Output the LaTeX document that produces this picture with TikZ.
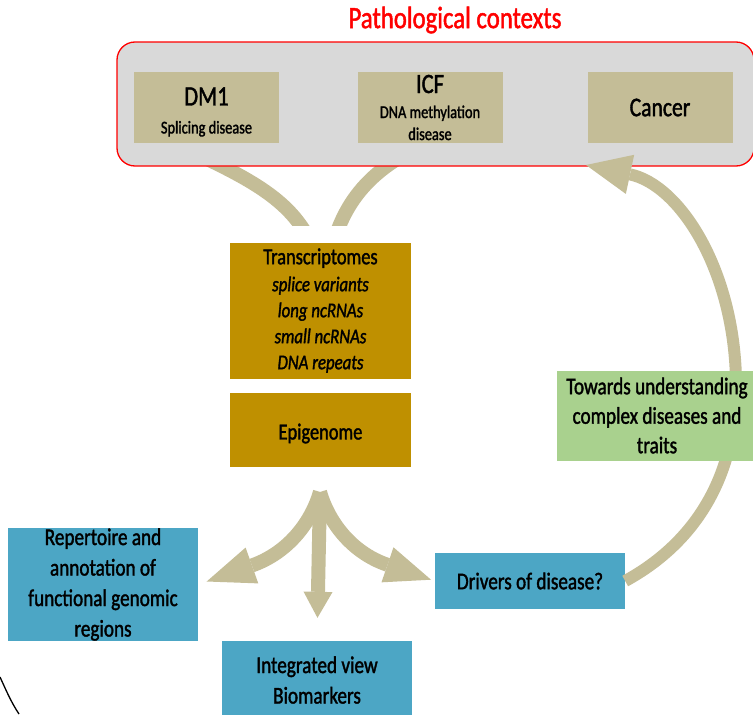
\documentclass[tikz,border=0pt]{standalone}
\usepackage{fontspec}
\setmainfont{Carlito}[FakeStretch=0.8,FakeBold=1.5]
\usetikzlibrary{arrows.meta}
\definecolor{tanc}{RGB}{196,189,151}
\definecolor{goldc}{RGB}{191,144,0}
\definecolor{bluec}{RGB}{76,166,197}
\definecolor{greenc}{RGB}{169,209,142}
\definecolor{grayc}{RGB}{217,217,217}
\definecolor{redc}{RGB}{255,0,0}
\begin{document}
\begin{tikzpicture}[x=1pt,y=-1pt,
  tanbox/.style={fill=tanc, minimum width=145pt, minimum height=71pt, inner sep=0pt, align=center},
  goldbox/.style={fill=goldc, minimum width=181pt, inner sep=0pt, align=center},
  bluebox/.style={fill=bluec, inner sep=0pt, align=center, font=\fontsize{24}{30.5}\selectfont},
  greenbox/.style={fill=greenc, inner sep=0pt, align=center, font=\fontsize{24}{29.5}\selectfont},
  pipe/.style={draw=tanc, line width=14pt, line cap=butt},
  bigpipe/.style={draw=tanc, line width=12pt, line cap=butt}
]
\path[use as bounding box] (0,0) rectangle (753,715);
\clip (0,0) rectangle (753,715);
\fill[white] (0,0) rectangle (753,715);

% arches from transcriptomes up to DM1 / ICF (drawn under the context box)
\coordinate (a1s) at (310,241);
\coordinate (a1e) at (205,158);
\coordinate (a2s) at (334,241);
\coordinate (a2e) at (402,156);
\begin{scope}
  \clip (100,100) rectangle (500,225);
  \draw[pipe] (a1s) .. controls (292,205) and (260,184) .. (a1e);
  \draw[pipe] (a2s) .. controls (345,205) and (365,178) .. (a2e);
\end{scope}

% pathological contexts
\node[draw=redc, line width=1.3pt, fill=grayc, rounded corners=18pt,
      minimum width=637pt, minimum height=124pt, inner sep=0pt] (ctx) at (435.5,104) {};
\node[text=redc, font=\fontsize{31}{31}\selectfont, inner sep=0pt] (title) at (455,20) {Pathological contexts};

\node[tanbox] (dm1) at (206.5,107.5) {};
\node[inner sep=0pt, align=center, font=\fontsize{18}{28}\selectfont] (dm1t) at (206.5,112)
  {{\fontsize{28}{28}\selectfont DM1}\\Splicing disease};
\node[tanbox, font=\fontsize{18}{22}\selectfont] (icf) at (430,107.5)
  {{\fontsize{28}{28}\selectfont ICF}\\[3pt]DNA methylation\\disease};
\node[tanbox, font=\fontsize{27}{27}\selectfont] (cancer) at (660,107.5) {Cancer};

% big return arrow
\coordinate (ctxtip) at (586,165);
\node[fill=bluec, minimum width=190pt, minimum height=56pt, inner sep=0pt,
      font=\fontsize{24}{30}\selectfont] (drivers) at (530,581) {Drivers of disease?};
\draw[bigpipe, -{Triangle[length=45pt,width=40pt,line width=0pt]}]
  (drivers.east) .. controls (700,540) and (738,470) .. (736,380)
  .. controls (734,270) and (680,185) .. (ctxtip);

% central boxes
\node[goldbox, minimum height=136pt, font=\fontsize{21}{26}\selectfont] (trans) at (320.5,310.5)
  {{\fontsize{23}{26}\selectfont Transcriptomes}\\[1pt]{\itshape splice variants}\\{\itshape long ncRNAs}\\{\itshape small ncRNAs}\\{\itshape DNA repeats}};
\node[goldbox, minimum height=74pt] (epi) at (320.5,430) {};
\node[inner sep=0pt, font=\fontsize{23}{26}\selectfont] (epit) at (320.5,433.5) {Epigenome};

% three-way arrow
\node[bluebox, minimum width=190pt, minimum height=112pt] (rep) at (103,584.5)
  {Repertoire and\\annotation of\\functional genomic\\regions};
\node[bluebox, minimum width=190pt, minimum height=78pt] (integ) at (317,680)
  {Integrated view\\Biomarkers};
\coordinate (fork) at (320,492);
\draw[pipe, shorten >=9pt, -{Triangle[length=48pt,width=38pt,line width=0pt]}]
  (fork) .. controls (312,520) and (290,552) .. (rep.east);
\draw[pipe, shorten >=4pt, -{Triangle[length=46pt,width=37pt,line width=0pt]}]
  (fork) .. controls (328,520) and (350,552) .. (drivers.west);
\draw[pipe, shorten >=23pt, -{Triangle[length=26pt,width=29pt,line width=0pt]}]
  (fork) -- (integ.north);

% green box
\node[greenbox, minimum width=200pt, minimum height=90pt] (towards) at (657,415.5)
  {Towards understanding\\complex diseases and\\traits};

% small stroke at the lower left corner
\draw[line width=1.3pt] (0,677) .. controls (6,690) and (11,702) .. (19,714);
\end{tikzpicture}
\end{document}
